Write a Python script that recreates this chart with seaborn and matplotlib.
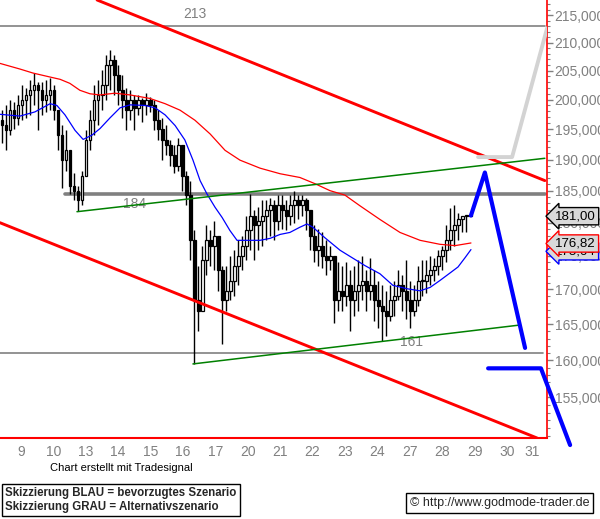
import numpy as np
import matplotlib
matplotlib.use("Agg")
import matplotlib.pyplot as plt
from matplotlib.ticker import FixedLocator, FixedFormatter, NullFormatter
import seaborn as sns

# x axis: day index 0 = the 9th, one unit per trading day
day_labels = ["9", "10", "13", "14", "15", "16", "17", "20", "21", "22",
              "23", "24", "27", "28", "29", "30", "31"]

# intraday bars, spaced evenly from bar_start
bar_start = -0.154
bar_step = 0.1235
bar_high = [198.2, 199.1, 199.9, 199.6, 200.8, 202.5, 202.0, 203.4, 204.6, 203.0,
            203.0, 203.4, 203.7, 202.5, 198.2, 195.7, 194.8, 189.9, 187.9, 185.8,
            188.2, 194.8, 198.2, 202.5, 203.4, 205.1, 207.7, 208.6, 207.7, 206.0,
            204.3, 202.0, 201.6, 200.8, 200.8, 200.2, 201.1, 200.4, 199.9, 198.2,
            196.9, 195.7, 193.2, 192.3, 193.5, 191.5, 188.2, 186.6, 178.8, 173.5,
            176.5, 179.6, 178.8, 180.3, 177.3, 173.5, 173.5, 175.0, 175.8, 177.3,
            178.0, 181.1, 184.5, 181.9, 182.4, 183.5, 183.5, 183.9, 183.5, 184.3,
            184.3, 183.5, 184.3, 185.0, 184.3, 184.3, 183.8, 181.1, 179.6, 179.1,
            178.5, 177.3, 176.5, 175.0, 174.0, 173.5, 174.0, 172.8, 173.5, 174.3,
            175.0, 172.8, 174.7, 172.8, 171.3, 170.6, 169.8, 170.6, 171.3, 172.8,
            172.1, 174.3, 171.3, 170.6, 173.5, 174.3, 174.3, 175.0, 174.6, 175.8,
            176.5, 179.6, 182.2, 182.7, 181.5, 181.1, 181.1, 181.1]
bar_low = [192.7, 191.5, 194.0, 195.1, 195.7, 196.5, 196.9, 197.4, 199.1, 194.8,
           197.4, 197.9, 198.2, 196.5, 191.5, 185.5, 188.2, 184.5, 183.5, 181.8,
           182.7, 187.4, 191.5, 194.0, 195.7, 198.2, 199.9, 201.6, 200.8, 199.1,
           196.9, 194.8, 196.5, 194.8, 197.4, 196.2, 197.4, 197.9, 194.8, 193.2,
           189.9, 190.7, 189.0, 187.9, 188.2, 185.0, 182.7, 174.3, 159.5, 164.1,
           169.8, 172.1, 173.5, 172.8, 169.8, 162.3, 166.9, 168.4, 169.1, 170.6,
           172.8, 174.3, 175.8, 174.3, 175.8, 176.5, 177.3, 178.0, 177.3, 178.8,
           179.1, 178.8, 179.6, 180.0, 180.6, 181.1, 178.8, 175.8, 174.0, 173.5,
           173.1, 172.1, 172.8, 165.2, 166.9, 166.9, 167.6, 164.1, 166.2, 166.9,
           168.4, 166.9, 168.4, 165.5, 164.5, 162.7, 163.4, 165.5, 166.2, 168.4,
           166.9, 165.8, 164.5, 166.2, 167.6, 169.1, 169.5, 170.6, 171.3, 172.1,
           172.8, 174.0, 175.8, 176.5, 177.3, 178.5, 178.5, 181.0]
bar_close = [195.7, 194.8, 198.2, 196.9, 199.1, 199.9, 200.8, 201.6, 202.5, 201.6,
             199.9, 200.8, 201.6, 198.2, 194.0, 189.9, 191.5, 185.8, 185.0, 183.5,
             187.4, 193.2, 196.5, 199.9, 200.8, 202.5, 206.0, 206.9, 204.3, 201.6,
             199.9, 198.2, 199.9, 198.6, 199.9, 199.1, 199.9, 199.1, 196.5, 195.1,
             193.2, 192.3, 190.7, 189.0, 192.3, 187.4, 184.3, 177.3, 168.4, 166.9,
             174.3, 177.3, 176.5, 178.0, 172.8, 168.4, 169.8, 171.3, 173.5, 175.0,
             176.5, 178.8, 181.1, 179.6, 180.3, 181.1, 181.9, 182.7, 180.3, 182.7,
             181.9, 181.1, 182.7, 183.5, 182.7, 183.5, 181.9, 178.0, 175.8, 176.5,
             175.0, 174.3, 175.0, 168.4, 169.8, 169.1, 170.6, 168.4, 169.8, 170.6,
             171.3, 169.8, 170.6, 168.4, 167.6, 166.9, 166.2, 168.4, 169.1, 170.6,
             169.8, 168.4, 166.9, 168.4, 171.3, 171.3, 172.1, 172.8, 173.5, 175.0,
             175.8, 177.3, 178.8, 179.6, 180.6, 181.1, 181.1, 181.1]
first_open = 196.5

# moving averages
ma_red_x = [-0.22, 0.40, 0.80, 1.33, 1.64, 1.94, 2.25, 2.56, 2.87, 3.33, 3.80, 4.41,
            4.88, 5.34, 5.80, 6.27, 6.73, 7.19, 7.81, 8.43, 9.04, 9.51, 9.97, 10.43,
            10.90, 11.51, 12.13, 12.75, 13.36, 13.83, 14.32]
ma_red_y = [206.3, 205.3, 204.6, 203.9, 203.5, 202.8, 201.6, 201.0, 200.8, 201.1, 200.8,
            200.2, 199.3, 198.2, 196.5, 194.2, 191.5, 189.9, 188.6, 187.7, 187.1, 186.1,
            185.0, 184.3, 182.6, 180.5, 178.5, 177.3, 176.7, 176.5, 176.9]
ma_blue_x = [-0.22, 0.40, 0.86, 1.33, 1.54, 1.79, 2.10, 2.35, 2.62, 2.87, 3.18, 3.49,
             3.80, 4.26, 4.57, 4.88, 5.19, 5.49, 5.74, 5.96, 6.17, 6.42, 6.64, 6.88,
             7.10, 7.41, 7.81, 8.12, 8.43, 8.73, 9.04, 9.26, 9.44, 9.81, 10.28, 10.68,
             11.05, 11.51, 11.91, 12.35, 12.75, 13.06, 13.36, 13.67, 13.92, 14.14, 14.32]
ma_blue_y = [197.5, 197.2, 197.9, 199.3, 199.0, 197.4, 194.8, 193.3, 194.0, 195.1, 196.9,
             198.6, 199.1, 199.0, 198.6, 197.4, 195.6, 193.2, 189.9, 186.6, 184.5, 182.4,
             180.8, 178.8, 177.3, 177.3, 177.3, 177.6, 178.2, 178.5, 179.3, 179.8, 179.3,
             177.7, 175.8, 174.6, 173.5, 172.3, 170.6, 170.1, 169.8, 170.3, 171.3, 172.4,
             173.3, 174.7, 175.9]

# trend channel (red) and trend lines (green)
chan_up_x = [2.78, 16.60]
chan_up_y = [217.8, 186.6]
chan_lo_x = [-0.22, 16.36]
chan_lo_y = [180.0, 149.7]
trend_up_x = [2.16, 16.60]
trend_up_y = [181.7, 190.2]
trend_lo_x = [5.74, 15.83]
trend_lo_y = [159.5, 164.9]

# horizontal marks
levels = [213.0, 184.5, 161.0]
level_names = ["213", "184", "161"]
level_from = [-0.22, 1.79, -0.22]
level_to = [16.6, 16.6, 16.55]

# scenario sketches
blue_a_x = [14.32, 14.75, 15.99]
blue_a_y = [181.1, 187.9, 161.7]
blue_b_x = [14.85, 16.48, 17.38]
blue_b_y = [158.9, 158.9, 148.8]
gray_x = [14.54, 15.59, 16.67]
gray_y = [190.4, 190.4, 212.6]

last_values = [175.64, 176.82, 181.00]
last_names = ["175,64", "176,82", "181,00"]
last_colors = ["blue", "red", "black"]

y_ticks = [155, 160, 165, 170, 175, 180, 185, 190, 195, 200, 205, 210, 215]

sns.set_style("white")
plt.rcParams["font.family"] = ["Liberation Sans", "DejaVu Sans"]

fig = plt.figure(figsize=(6, 5.19), dpi=100)
ax = fig.add_axes([0, 1 - 438 / 519, 547 / 600, 438 / 519])
ax.set_yscale("log")

# candles
bx = bar_start + bar_step * np.arange(len(bar_close))
closes = np.array(bar_close)
opens = np.concatenate([[first_open], closes[:-1]])
ax.vlines(bx, bar_low, bar_high, color="black", lw=1.0, zorder=3)
up = closes >= opens
lo_b = np.minimum(opens, closes)
hi_b = np.maximum(opens, closes)
hgt = np.maximum(hi_b - lo_b, 0.15)
ax.bar(bx[up], hgt[up], bottom=lo_b[up], width=0.09, color="white",
       edgecolor="black", linewidth=0.9, zorder=4)
ax.bar(bx[~up], hgt[~up], bottom=lo_b[~up], width=0.09, color="black",
       edgecolor="black", linewidth=0.9, zorder=4)

sns.lineplot(x=ma_red_x, y=ma_red_y, ax=ax, color="#ff0000", lw=0.9, sort=False, zorder=5)
sns.lineplot(x=ma_blue_x, y=ma_blue_y, ax=ax, color="#0000ff", lw=0.9, sort=False, zorder=5)

for lx, ly in [(chan_up_x, chan_up_y), (chan_lo_x, chan_lo_y)]:
    sns.lineplot(x=lx, y=ly, ax=ax, color="#ff0000", lw=2.1, sort=False, zorder=6)
for lx, ly in [(trend_up_x, trend_up_y), (trend_lo_x, trend_lo_y)]:
    sns.lineplot(x=lx, y=ly, ax=ax, color="#008000", lw=1.1, sort=False, zorder=6)

for lvl, name, x0, x1 in zip(levels, level_names, level_from, level_to):
    ax.plot([x0, x1], [lvl, lvl], color="#808080", lw=2.6 if name == "184" else 1.2, zorder=2)
ax.text(5.8, 213.0 * 1.004, "213", color="#808080", fontsize=10, ha="center", va="bottom")
ax.text(3.95, 184.5 * 0.9975, "184", color="#808080", fontsize=10, ha="center", va="top")
ax.text(12.5, 161.0 * 1.003, "161", color="#808080", fontsize=10, ha="center", va="bottom")

sns.lineplot(x=gray_x, y=gray_y, ax=ax, color="#d3d3d3", lw=2.8, sort=False, zorder=7)
sns.lineplot(x=blue_a_x, y=blue_a_y, ax=ax, color="#0000ff", lw=3, sort=False, zorder=8)
bl = ax.plot(blue_b_x, blue_b_y, color="#0000ff", lw=3, zorder=8)
bl[0].set_clip_on(False)

ax.set_xlim(-0.216, 16.667)
ax.set_ylim(149.7, 217.8)

# axes styling
for s in ["top", "left"]:
    ax.spines[s].set_visible(False)
ax.spines["right"].set_color("#ff0000")
ax.spines["bottom"].set_color("#ff0000")
ax.spines["right"].set_linewidth(1.2)
ax.spines["bottom"].set_linewidth(1.5)

ax.yaxis.tick_right()
ax.yaxis.set_major_locator(FixedLocator(y_ticks))
ax.yaxis.set_major_formatter(FixedFormatter([f"{v},000" for v in y_ticks]))
ax.yaxis.set_minor_locator(FixedLocator(np.arange(150, 218, 1)))
ax.yaxis.set_minor_formatter(NullFormatter())
ax.tick_params(axis="y", which="major", length=4, width=1, color="#808080",
               labelcolor="#808080", labelsize=10, pad=1.5, direction="out")
ax.tick_params(axis="y", which="minor", length=2, width=0.8, color="#808080", direction="out")

ax.set_xticks(range(len(day_labels)))
ax.set_xticklabels([""] * len(day_labels))
label_pos = [k + 0.43 for k in range(len(day_labels) - 1)] + [16.22]
ax.set_xticks(label_pos, minor=True)
ax.set_xticklabels(day_labels, minor=True)
ax.tick_params(axis="x", which="major", length=4, width=1, color="#808080", direction="out")
ax.tick_params(axis="x", which="minor", length=0, labelcolor="#808080", labelsize=10, pad=5)
ax.set_xlabel("")
ax.set_ylabel("")

# last value markers
for val, name, col in zip(last_values, last_names, last_colors):
    ax.annotate(name, xy=(1.0, val), xycoords=("axes fraction", "data"),
                xytext=(6, 0), textcoords="offset points", ha="left", va="center",
                fontsize=9.5, color="black", annotation_clip=False, zorder=10,
                bbox=dict(boxstyle="larrow,pad=0.2", fc="#d9d9d9", ec=col, lw=1))

fig.text(50 / 600, 1 - 468 / 519, "Chart erstellt mit Tradesignal", fontsize=8,
         color="black", va="center", ha="left")
fig.text(5 / 600, 1 - 500 / 519,
         "Skizzierung BLAU = bevorzugtes Szenario\nSkizzierung GRAU = Alternativszenario",
         fontsize=8.3, fontweight="bold", va="center", ha="left", linespacing=1.2,
         bbox=dict(boxstyle="square,pad=0.3", fc="white", ec="black", lw=1))
fig.text(410 / 600, 1 - 503 / 519, "\u00a9 http://www.godmode-trader.de", fontsize=9,
         va="center", ha="left",
         bbox=dict(boxstyle="square,pad=0.3", fc="white", ec="black", lw=1))

fig.savefig("out.png", dpi=100)
